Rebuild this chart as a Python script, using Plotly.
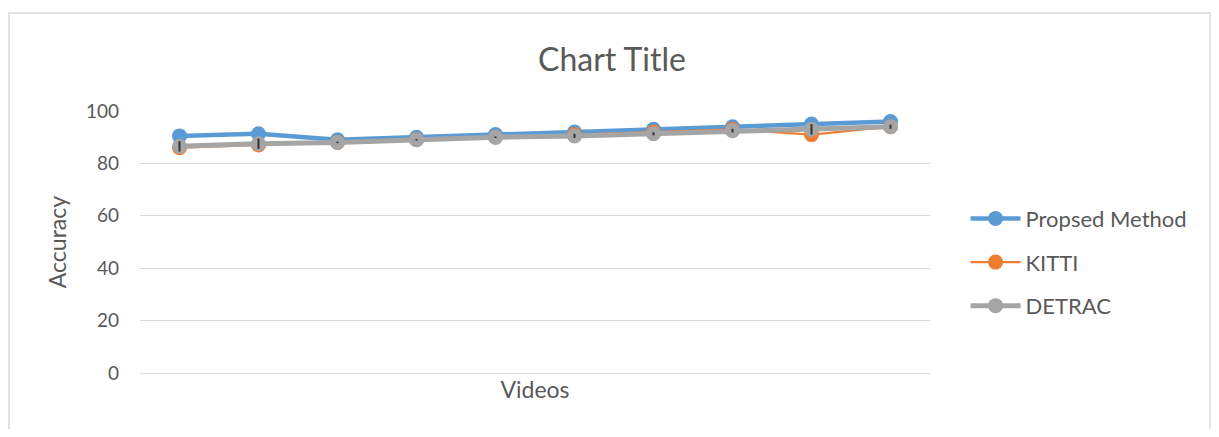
import plotly.graph_objects as go

videos = [1, 2, 3, 4, 5, 6, 7, 8, 9, 10]
proposed = [90.5, 91.3, 89, 90, 91, 92, 93, 94, 95, 96]
kitti = [86, 87, 88, 89, 90, 91, 92, 93, 91, 94]
detrac = [86.5, 87.5, 88, 89, 90, 90.5, 91.3, 92.5, 93, 94]
detrac_err = [2, 2, 0.3, 0.3, 0.3, 0.8, 0.6, 0.7, 2, 0.8]

FONT = "Lato"
TXT = "#595959"
W, H = 1211, 421
L, R, T, B = 132, 289, 103, 56
PW, PH = W - L - R, H - T - B

fig = go.Figure()
fig.add_trace(go.Scatter(x=videos, y=proposed, name="Propsed Method", mode="lines+markers",
                         line=dict(color="#5B9BD5", width=4.5), marker=dict(size=15, color="#5B9BD5"),
                         legendgroup="a"))
fig.add_trace(go.Scatter(x=videos, y=kitti, name="KITTI", mode="lines+markers",
                         line=dict(color="#ED7D31", width=2.2), marker=dict(size=15, color="#ED7D31"),
                         legendgroup="b"))
fig.add_trace(go.Scatter(x=videos, y=detrac, name="DETRAC", mode="lines+markers",
                         line=dict(color="#A5A5A5", width=5), marker=dict(size=15, color="#A5A5A5"),
                         legendgroup="c"))
fig.add_trace(go.Scatter(x=videos, y=detrac, name="DETRAC error", mode="markers", showlegend=False,
                         marker=dict(size=1, opacity=0),
                         error_y=dict(type="data", array=detrac_err, color="#333333", thickness=2, width=0),
                         hoverinfo="skip"))

fig.update_layout(
    width=W, height=H,
    paper_bgcolor="white", plot_bgcolor="white",
    margin=dict(l=L, r=R, t=T, b=B),
    font=dict(family=FONT, color=TXT, size=19),
    title=dict(text="Chart Title", x=604 / W, xanchor="center", y=1 - 52 / H, yanchor="middle",
               font=dict(size=32, color=TXT, family=FONT)),
    legend=dict(x=1.045, y=0.423, xanchor="left", yanchor="middle", font=dict(size=22, color=TXT),
                tracegroupgap=12, itemwidth=50),
    showlegend=True,
)
fig.update_xaxes(range=[0.5, 10.5], showticklabels=False, showgrid=False, zeroline=False, showline=False,
                 title=dict(text="Videos", font=dict(size=23, color=TXT), standoff=8))
fig.update_yaxes(range=[0, 100], tickvals=[0, 20, 40, 60, 80, 100], showgrid=True, gridcolor="#D9D9D9",
                 gridwidth=1.3, zeroline=True, zerolinecolor="#D9D9D9", zerolinewidth=1.3, showline=False,
                 ticks="", ticklabelstandoff=20, tickfont=dict(size=19, color=TXT),
                 title=dict(text="Accuracy", font=dict(size=23, color=TXT), standoff=12))

fig.add_shape(type="rect", xref="paper", yref="paper",
              x0=(1 - L) / PW, x1=(1202 - L) / PW, y0=(PH + T - 440) / PH, y1=(PH + T - 5) / PH,
              line=dict(color="#D9D9D9", width=1.5), fillcolor="rgba(0,0,0,0)", layer="below")

fig.write_html("out.html")
